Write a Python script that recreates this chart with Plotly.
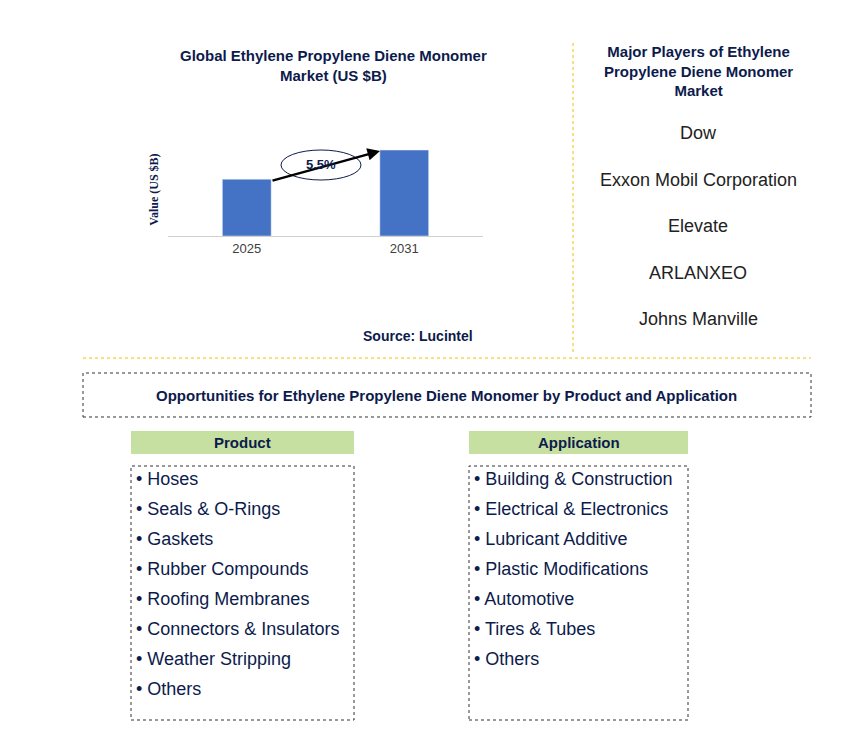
import plotly.graph_objects as go

W, H = 868, 732
years = ["2025", "2031"]
values = [3.7, 5.6]
cagr = "5.5%"
players = ["Dow", "Exxon Mobil Corporation", "Elevate", "ARLANXEO", "Johns Manville"]
products = ["Hoses", "Seals & O-Rings", "Gaskets", "Rubber Compounds", "Roofing Membranes",
            "Connectors & Insulators", "Weather Stripping", "Others"]
applications = ["Building & Construction", "Electrical & Electronics", "Lubricant Additive",
                "Plastic Modifications", "Automotive", "Tires & Tubes", "Others"]

NAVY = "#0d1b4c"

def px(x):
    return x / W

def py(y):
    return 1 - y / H

fig = go.Figure(go.Bar(x=years, y=values, marker_color="#4472c4", width=0.31))

shapes = []
ann = []

def rect(x0, y0, x1, y1, line=None, fill=None, dash="dot"):
    shapes.append(dict(type="rect", xref="paper", yref="paper", x0=px(x0), x1=px(x1),
                       y0=py(y1), y1=py(y0), fillcolor=fill or "rgba(0,0,0,0)",
                       line=dict(color=line or "rgba(0,0,0,0)", width=1, dash=dash)))

def text(x, y, s, size=16, color=NAVY, bold=False, xanchor="center"):
    ann.append(dict(xref="paper", yref="paper", x=px(x), y=py(y), text=f"<b>{s}</b>" if bold else s,
                    showarrow=False, xanchor=xanchor, yanchor="middle",
                    font=dict(size=size, color=color, family="Arial")))

# chart title and source
text(325, 57, "Global Ethylene Propylene Diene Monomer<br>Market (US $B)", 15, bold=True)
text(410, 328, "Source: Lucintel", 14, bold=True)

# CAGR arrow and ellipse
ann.append(dict(xref="paper", yref="paper", x=px(372), y=py(143), ax=-109, ay=30,
                showarrow=True, arrowhead=2, arrowsize=1,
                arrowwidth=2.5, arrowcolor="black", text=""))
shapes.append(dict(type="circle", xref="paper", yref="paper", x0=px(273), x1=px(353),
                   y0=py(172), y1=py(142), fillcolor="white", line=dict(color=NAVY, width=1)))
text(313, 157, cagr, 13, bold=True)

# separators
shapes.append(dict(type="line", xref="paper", yref="paper", x0=px(565), x1=px(565), y0=py(35), y1=py(345),
                   line=dict(color="#f0c000", width=1, dash="dot")))
shapes.append(dict(type="line", xref="paper", yref="paper", x0=px(75), x1=px(803), y0=py(350), y1=py(350),
                   line=dict(color="#f0c000", width=1, dash="dot")))

# players
text(690, 63, "Major Players of Ethylene<br>Propylene Diene Monomer<br>Market", 15, bold=True)
for i, p in enumerate(players):
    text(690, 125 + i * 46.5, p, 18, color="#222222")

# opportunities box
rect(75, 365, 803, 409, line="#333333")
text(439, 387, "Opportunities for Ethylene Propylene Diene Monomer by Product and Application", 15, bold=True)

for (x0, x1, head, items) in [(123, 346, "Product", products), (461, 680, "Application", applications)]:
    rect(x0, 423, x1, 446, fill="#c5e0a0")
    text((x0 + x1) / 2, 434, head, 15, bold=True)
    rect(x0, 458, x1, 712, line="#333333")
    for i, it in enumerate(items):
        text(x0 + 3, 471 + i * 30, "• " + it, 18, xanchor="left")

fig.update_layout(
    width=W, height=H, margin=dict(l=0, r=0, t=0, b=0),
    plot_bgcolor="white", paper_bgcolor="white", showlegend=False,
    shapes=shapes, annotations=ann,
    xaxis=dict(domain=[px(160), px(475)], showline=True, linecolor="#d0d0d0",
               tickfont=dict(size=13, color="#404040", family="Arial Black, Arial"), ticks=""),
    yaxis=dict(domain=[py(228), py(135)], range=[0, 6.06], showticklabels=False,
               showgrid=False, zeroline=False,
               title=dict(text="<b>Value (US $B)</b>", font=dict(size=12, color=NAVY, family="Times New Roman, serif"), standoff=5)),
)
fig.write_html("out.html")
